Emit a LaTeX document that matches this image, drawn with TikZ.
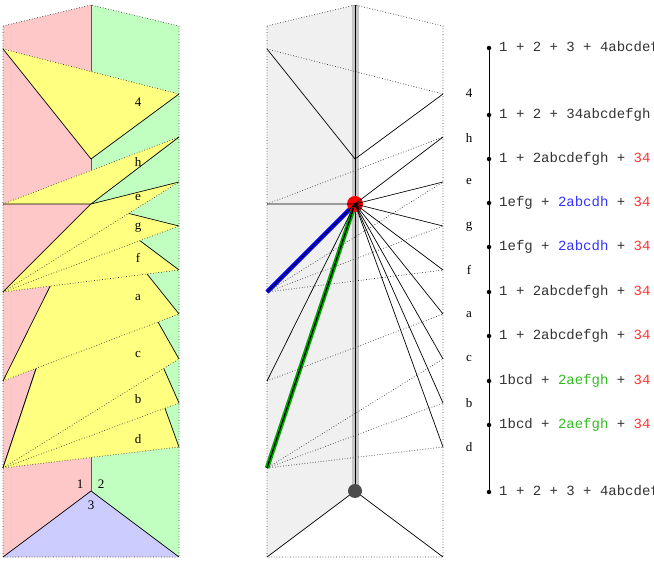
\documentclass[tikz,border=0pt]{standalone}
\usepackage{fontspec}
\setmainfont{Liberation Serif}
\setmonofont{Liberation Mono}
\definecolor{pinkc}{HTML}{FFC8C8}
\definecolor{greenc}{HTML}{C0FFC0}
\definecolor{yel}{HTML}{FFFF80}
\definecolor{bluec}{HTML}{CCCCFF}
\definecolor{rtx}{HTML}{FF3333}
\definecolor{btx}{HTML}{3333FF}
\definecolor{gtx}{HTML}{33BB22}
\begin{document}
\begin{tikzpicture}[x=1pt,y=-1pt,
  dot/.style={dotted,line width=0.7pt,black!80},
  sol/.style={line width=0.7pt},
  lab/.style={font=\fontsize{13}{13}\selectfont},
  row/.style={anchor=west,font=\ttfamily\fontsize{14}{14}\selectfont,inner sep=0pt},
  pt/.style={circle,fill=black,inner sep=0pt,minimum size=4.5pt}]
\useasboundingbox (0,0) rectangle (654,561);
\foreach \ox/\pn in {0/A,264/B}{
\begin{scope}[xshift=\ox]
\coordinate (\pn T) at (91,5);
\coordinate (\pn TL) at (3,26);
\coordinate (\pn TR) at (179,26);
\coordinate (\pn BL) at (3,557);
\coordinate (\pn BR) at (179,557);
\coordinate (\pn L1) at (3,49);
\coordinate (\pn L2) at (3,204);
\coordinate (\pn L3) at (3,292);
\coordinate (\pn L4) at (3,381);
\coordinate (\pn L5) at (3,468);
\coordinate (\pn R4) at (179,94);
\coordinate (\pn Rh) at (179,137);
\coordinate (\pn Re) at (179,182);
\coordinate (\pn Rg) at (179,226);
\coordinate (\pn Rf) at (179,270);
\coordinate (\pn Ra) at (179,314);
\coordinate (\pn Rc) at (179,359);
\coordinate (\pn Rb) at (179,403);
\coordinate (\pn Rd) at (179,447);
\coordinate (\pn C1) at (91,159);
\coordinate (\pn C2) at (91,204);
\coordinate (\pn C3) at (91,491);
\end{scope}}
\fill[pinkc] (AT) -- (ATL) -- (ABL) -- (ABR) -- (AC3) -- cycle;
\fill[greenc] (AT) -- (ATR) -- (ABR) -- (AC3) -- cycle;
\fill[bluec] (AC3) -- (ABL) -- (ABR) -- cycle;
\draw[sol] (ABL) -- (AC3) -- (ABR);
\draw[gray!70!black,line width=0.9pt] (AT) -- (AC3);
\foreach \l/\r/\c in {L5/Rd/C2,L5/Rb/C2,L5/Rc/C2,L4/Ra/C2,L3/Rf/C2,L3/Rg/C2,L3/Re/C2,L2/Rh/C2,L1/R4/C1}{
  \fill[yel] (A\l) -- (A\r) -- (A\c) -- cycle;
  \draw[sol] (A\l) -- (A\c) -- (A\r);
  \draw[dot] (A\l) -- (A\r);
}
\draw[dot] (ATL) -- (AT) -- (ATR) -- (ABR) -- (ABL) -- cycle;
\foreach \t/\y in {4/102,h/162,e/198,g/228,f/258,a/298,c/355,b/399,d/439}
  \node[lab] (al\t) at (138,\y) {\t};
\node[lab] (n1) at (80,484) {1};
\node[lab] (n2) at (101,484) {2};
\node[lab] (n3) at (91,505) {3};
\fill[gray!12] (BT) -- (BTL) -- (BBL) -- (BC3) -- cycle;
\draw[gray!45,line width=7pt] (BT) -- (BC3);
\draw[line width=0.9pt] (BT) -- (BC3);
\draw[sol] (BBL) -- (BC3) -- (BBR);
\draw[dot] (BTL) -- (BT) -- (BTR) -- (BBR) -- (BBL) -- cycle;
\draw[sol] (BL1) -- (BC1) -- (BR4);
\draw[dot] (BL1) -- (BR4);
\draw[blue,line width=4.5pt] (BL3) -- (BC2);
\draw[green!65!black,line width=4.5pt] (BL5) -- (BC2);
\foreach \l/\r in {L2/Rh,L3/Re,L3/Rg,L3/Rf,L4/Ra,L5/Rc,L5/Rb,L5/Rd}
  \draw[dot] (B\l) -- (B\r);
\fill[red] (BC2) circle (8);
\fill[black!70] (BC3) circle (7);
\foreach \l/\r in {L2/Rh,L3/Re,L3/Rg,L3/Rf,L4/Ra,L5/Rc,L5/Rb,L5/Rd}
  \draw[sol] (B\l) -- (BC2) -- (B\r);
\foreach \t/\y in {4/93,h/138,e/182,g/227,f/270,a/315,c/359,b/403,d/447}
  \node[lab] (bl\t) at (469,\y) {\t};
\coordinate (ltop) at (489,48);
\coordinate (lbot) at (489,492);
\draw[line width=0.9pt] (ltop) -- (lbot);
\foreach \y/\txt [count=\i] in {
 48/{1 + 2 + 3 + 4abcdefgh},
 115/{1 + 2 + 34abcdefgh},
 159/{1 + 2abcdefgh + \textcolor{rtx}{34}},
 203/{1efg + \textcolor{btx}{2abcdh} + \textcolor{rtx}{34}},
 247/{1efg + \textcolor{btx}{2abcdh} + \textcolor{rtx}{34}},
 292/{1 + 2abcdefgh + \textcolor{rtx}{34}},
 336/{1 + 2abcdefgh + \textcolor{rtx}{34}},
 381/{1bcd + \textcolor{gtx}{2aefgh} + \textcolor{rtx}{34}},
 425/{1bcd + \textcolor{gtx}{2aefgh} + \textcolor{rtx}{34}},
 492/{1 + 2 + 3 + 4abcdefgh}}{
  \node[pt] (p\i) at (489,\y) {};
  \node[row,text=black!80] (r\i) at (499,\y) {\txt};
}
\end{tikzpicture}
\end{document}
